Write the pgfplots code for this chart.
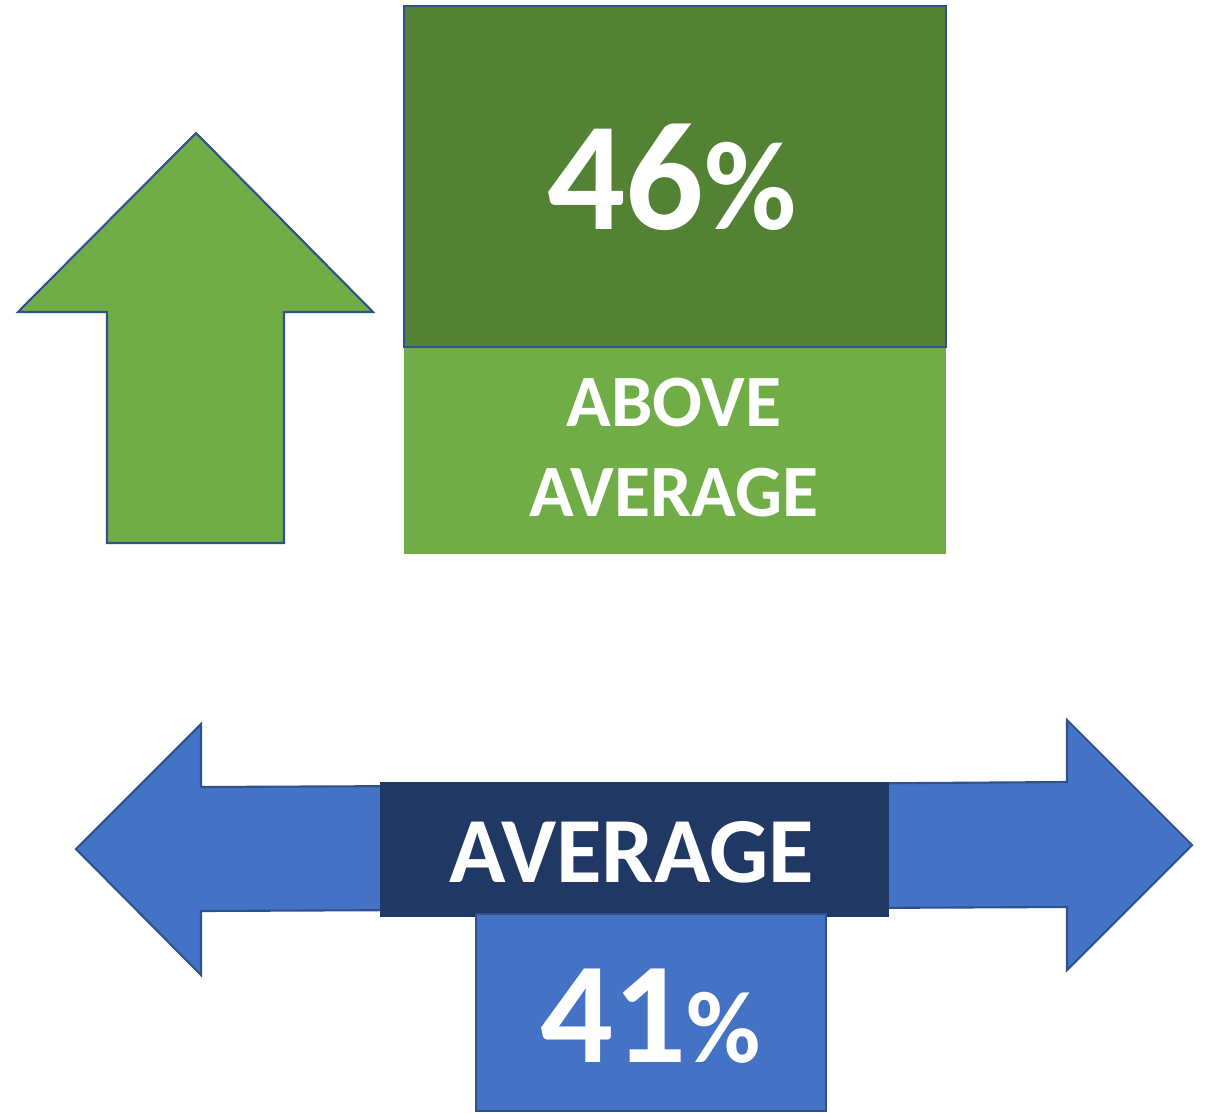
\documentclass[border=0pt]{standalone}
\usepackage{pgfplots}
\pgfplotsset{compat=1.18}
\usepackage{fontspec}
\setmainfont{Carlito}
\definecolor{dkgreen}{HTML}{548235}
\definecolor{ltgreen}{HTML}{70AD47}
\definecolor{navy}{HTML}{203864}
\definecolor{mblue}{HTML}{4472C4}
\definecolor{edge}{HTML}{2F528F}
\begin{document}
\begin{tikzpicture}
\begin{axis}[
  width=12.06cm, height=11.11cm, scale only axis,
  xmin=0, xmax=1206, ymin=0, ymax=1111, y dir=reverse,
  axis lines=none, clip=false,
  every axis plot/.append style={line join=miter},
]
% invisible frame to fix the picture's extent
\path[draw=none, fill=none] (axis cs:0,0) rectangle (axis cs:1206,1111);
% up arrow
\addplot[fill=ltgreen, draw=edge, line width=0.6pt] coordinates {
 (196,133) (373,312) (284,312) (284,543) (107,543) (107,312) (18,312) (196,133)} -- cycle;
% light green box
\addplot[fill=ltgreen, draw=none] coordinates {
 (404,347) (946,347) (946,554) (404,554) (404,347)} -- cycle;
% dark green box (46%)
\addplot[fill=dkgreen, draw=edge, line width=0.6pt] coordinates {
 (404,6) (946,6) (946,347) (404,347) (404,6)} -- cycle;
% double arrow
\addplot[fill=mblue, draw=edge, line width=0.6pt] coordinates {
 (76,849) (201,724) (201,787) (635,785) (1067,782) (1067,720) (1192,845)
 (1067,970) (1067,907) (635,909) (201,911) (201,975) (76,849)} -- cycle;
% navy box
\addplot[fill=navy, draw=none] coordinates {
 (380,782) (889,782) (889,917) (380,917) (380,782)} -- cycle;
% blue box (41%)
\addplot[fill=mblue, draw=edge, line width=0.6pt] coordinates {
 (476,914) (826,914) (826,1111) (476,1111) (476,914)} -- cycle;

\node[anchor=base, text=white, inner sep=0pt] at (axis cs:672,229)
  {\bfseries\fontsize{44}{48}\selectfont 46\fontsize{36}{40}\selectfont\%};
\node[anchor=base, text=white, inner sep=0pt] at (axis cs:674,426)
  {\bfseries\fontsize{21}{24}\selectfont ABOVE};
\node[anchor=base, text=white, inner sep=0pt] at (axis cs:674,516)
  {\bfseries\fontsize{21}{24}\selectfont AVERAGE};
\node[anchor=base, text=white, inner sep=0pt] at (axis cs:632,882)
  {\bfseries\fontsize{26.5}{30}\selectfont AVERAGE};
\node[anchor=base, text=white, inner sep=0pt] at (axis cs:651,1062)
  {\bfseries\fontsize{41}{45}\selectfont 41\fontsize{29}{33}\selectfont\%};
\end{axis}
\end{tikzpicture}
\end{document}
